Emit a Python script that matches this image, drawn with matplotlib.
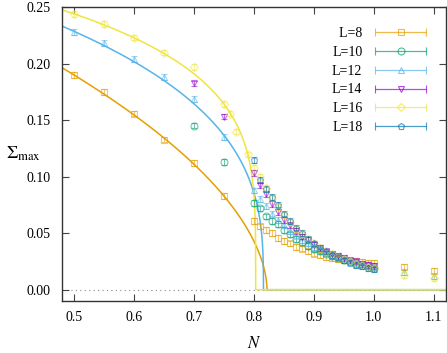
import matplotlib
matplotlib.use('Agg')
import matplotlib.pyplot as plt
import numpy as np
from matplotlib.legend_handler import HandlerErrorbar

plt.rcParams['font.family'] = ['Liberation Serif', 'DejaVu Serif']
plt.rcParams['mathtext.fontset'] = 'stix'

# sigma_max vs N for each lattice size L
N_low = [0.5, 0.55, 0.6, 0.65, 0.7, 0.75]
N_mid = [0.7, 0.75]
N_crit = [0.80, 0.81, 0.82, 0.83, 0.84, 0.85, 0.86, 0.87, 0.88, 0.89, 0.90,
          0.91, 0.92, 0.93, 0.94, 0.95, 0.96, 0.97, 0.98, 0.99, 1.00]
N_tail = [1.05, 1.1]
N_y16 = [0.76, 0.77, 0.79]

s8_low = [0.190, 0.175, 0.156, 0.133, 0.112, 0.083]
s8_crit = [0.061, 0.056, 0.053, 0.050, 0.046, 0.043, 0.041, 0.038, 0.0365, 0.034, 0.032,
           0.031, 0.029, 0.028, 0.027, 0.026, 0.0255, 0.025, 0.0245, 0.024, 0.0235]
s8_tail = [0.0203, 0.0168]

s10_mid = [0.1454, 0.113]
s10_crit = [0.077, 0.072, 0.065, 0.061, 0.058, 0.053, 0.049, 0.045, 0.042, 0.039, 0.036,
            0.034, 0.032, 0.030, 0.028, 0.026, 0.025, 0.023, 0.022, 0.021, 0.0195]

s12_low = [0.228, 0.2186, 0.2042, 0.1886, 0.169, 0.135]
s12_crit = [0.088, 0.0806, 0.074, 0.0674, 0.062, 0.057, 0.052, 0.048, 0.044, 0.041, 0.038,
            0.035, 0.033, 0.031, 0.029, 0.027, 0.025, 0.024, 0.022, 0.021, 0.020]
s12_tail = [0.0159, 0.0121]

s14_mid = [0.1827, 0.1533]
s14_crit = [0.1036, 0.0924, 0.085, 0.0762, 0.0689, 0.062, 0.057, 0.052, 0.047, 0.044, 0.040,
            0.037, 0.034, 0.032, 0.030, 0.028, 0.026, 0.025, 0.023, 0.022, 0.021]

s16_low = [0.2445, 0.2351, 0.2233, 0.2101, 0.1974, 0.1645]
s16_extra = [0.156, 0.140, 0.1198]
s16_crit = [0.108, 0.100, 0.090, 0.081, 0.073, 0.066, 0.060, 0.054, 0.049, 0.045, 0.041,
            0.037, 0.034, 0.032, 0.029, 0.027, 0.025, 0.023, 0.022, 0.020, 0.019]
s16_tail = [0.013, 0.010]

s18_crit = [0.115, 0.097, 0.089, 0.082, 0.0754, 0.0674, 0.061, 0.055, 0.050, 0.045, 0.041,
            0.037, 0.034, 0.031, 0.029, 0.026, 0.024, 0.022, 0.021, 0.019, 0.018]

err = 0.0025

# fits  A*(Nc-N)^b
fit_amp = [0.356, 0.334, 0.3205]
fit_nc = [0.822, 0.816, 0.803]
fit_exp = [0.553, 0.328, 0.227]
fit_col = ['#E69F00', '#56B4E9', '#F0E442']

labels = ['\u2007L=8', 'L=10', 'L=12', 'L=14', 'L=16', 'L=18']
colors = ['#E69F00', '#009E73', '#56B4E9', '#9400D3', '#F0E442', '#0072B2']
markers = ['s', 'o', '^', 'v', 'D', 'p']
msizes = [5, 5, 5, 5, 4.5, 5]

series = [
    (N_low + N_crit + N_tail, s8_low + s8_crit + s8_tail),
    (N_mid + N_crit, s10_mid + s10_crit),
    (N_low + N_crit + N_tail, s12_low + s12_crit + s12_tail),
    (N_mid + N_crit, s14_mid + s14_crit),
    (N_low + N_y16 + N_crit + N_tail, s16_low + s16_extra + s16_crit + s16_tail),
    (N_crit, s18_crit),
]

fig = plt.figure(figsize=(4.47, 3.53), dpi=100)
ax = fig.add_axes([0.1387, 0.1473, 0.8583, 0.8315])

ax.axhline(0, color='#888888', lw=0.8, ls=(0, (1, 3)), zorder=1)

xs = np.linspace(0.48, 1.12, 3000)
for A, nc, b, c in zip(fit_amp, fit_nc, fit_exp, fit_col):
    ax.plot(xs, A * np.clip(nc - xs, 0, None) ** b, color=c, lw=1.1, zorder=2)

handles = []
for (x, y), lab, c, m, ms in zip(series, labels, colors, markers, msizes):
    ax.errorbar(x, y, yerr=err, fmt=m, ms=ms, mfc='none', mec=c, mew=0.8,
                ecolor=c, elinewidth=0.8, capsize=2.5, capthick=0.8,
                alpha=0.55, zorder=3)
    h = ax.errorbar([np.nan], [np.nan], xerr=[0.1], fmt=m, ms=ms, mfc='none', mec=c,
                    mew=0.8, ecolor=c, elinewidth=0.9, capsize=3, capthick=0.9,
                    alpha=0.7, label=lab)
    handles.append(h)

leg = ax.legend(handles=handles, loc='upper right', markerfirst=False, frameon=False,
                fontsize=10, handlelength=3.7, labelspacing=0.42, borderaxespad=1.0,
                handletextpad=0.9, numpoints=1,
                handler_map={type(handles[0]): HandlerErrorbar(xerr_size=1.85)})

ax.set_xlim(0.48, 1.12)
ax.set_ylim(-0.01, 0.25)
ax.set_xticks([0.5, 0.6, 0.7, 0.8, 0.9, 1.0, 1.1])
ax.set_xticklabels(['0.5', '0.6', '0.7', '0.8', '0.9', '1.0', '1.1'])
ax.set_yticks([0.0, 0.05, 0.10, 0.15, 0.20, 0.25])
ax.set_yticklabels(['0.00', '0.05', '0.10', '0.15', '0.20', '0.25'])
ax.tick_params(direction='in', length=5, width=0.8, color='#444444', top=True, right=True,
               labelsize=10)
ax.tick_params(axis='x', pad=7)
ax.tick_params(axis='y', pad=8)
for s in ax.spines.values():
    s.set_color('#333333')
    s.set_linewidth(1.0)

ax.set_xlabel('$N$', fontsize=12, labelpad=9)
ax.set_ylabel(r'$\Sigma_{\rm max}$', fontsize=13, rotation=0)
ax.yaxis.set_label_coords(-0.1, 0.47)

fig.savefig('out.png', dpi=100)
